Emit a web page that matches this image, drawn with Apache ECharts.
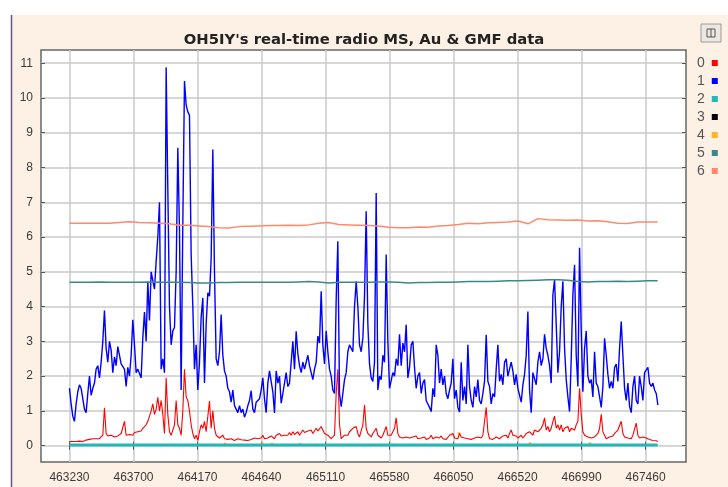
<!DOCTYPE html>
<html>
<head>
<meta charset="utf-8">
<script src="https://cdn.jsdelivr.net/npm/echarts@6/dist/echarts.min.js"></script>
<style>
html,body{margin:0;padding:0;background:#ffffff;}
#chart{width:728px;height:487px;}
</style>
</head>
<body>
<div id="chart"></div>
<script>
const TITLE = "OH5IY's real-time radio MS, Au & GMF data";
const X_TICKS = [463230, 463700, 464170, 464640, 465110, 465580, 466050, 466520, 466990, 467460];
const Y_TICKS = [0, 1, 2, 3, 4, 5, 6, 7, 8, 9, 10, 11];
const SERIES_NAMES = ['0', '1', '2', '3', '4', '5', '6'];
const SERIES_COLORS = ['#ff0000', '#0000ff', '#22b8b8', '#000000', '#ffa500', '#3f8787', '#ff8a6a'];

// fast sampled series (0 and 1)
const T_START = 463230;
const T_STEP = 12.24;
const S1_BLUE = [
1.65,1.2,0.85,0.7,1.2,1.55,1.75,1.65,1.35,1.05,
0.95,1.5,2.0,1.45,1.65,1.8,2.2,2.3,1.95,2.4,
3.0,3.89,2.8,2.4,3.0,2.75,2.1,2.55,2.3,2.85,
2.9,2.35,2.3,2.2,1.7,2.25,2.0,2.6,3.62,2.9,
2.1,2.2,2.2,1.95,3.1,3.84,3.0,4.72,3.6,5.0,
5.05,4.5,5.3,6.0,7.0,2.2,2.5,2.1,10.88,7.4,
4.0,2.9,3.3,3.4,5.0,8.57,6.2,1.6,6.4,10.49,
9.8,9.6,9.5,5.5,4.0,2.2,2.9,1.6,2.4,3.7,
4.25,1.8,3.5,4.4,4.3,5.4,8.52,5.0,2.5,2.3,
2.7,3.77,2.6,2.15,2.0,1.65,1.55,1.25,1.6,1.15,
1.05,0.95,1.15,0.95,1.05,0.82,0.95,1.15,1.3,1.58,
1.05,0.95,1.25,1.26,1.35,1.6,1.95,1.35,0.95,1.8,
2.15,2.2,1.55,0.94,2.15,1.8,2.0,1.22,1.5,1.8,
2.1,1.7,1.8,2.4,3.0,2.2,3.29,2.65,2.3,2.1,
2.4,2.2,2.4,2.6,2.3,2.1,1.9,2.2,2.4,3.15,
2.95,4.44,2.9,2.35,3.3,2.7,2.2,2.0,1.6,1.5,
4.2,5.88,1.5,1.12,1.5,1.9,2.1,2.7,2.9,2.9,
2.7,4.0,4.73,4.0,2.9,2.7,3.1,4.3,6.74,3.5,
2.35,1.95,1.85,2.4,7.27,1.6,2.0,1.9,2.6,2.4,
5.5,3.0,1.65,1.6,2.1,2.0,2.5,2.3,3.2,2.3,
2.95,2.7,3.48,1.95,2.25,2.9,3.0,2.25,1.65,2.0,
2.1,1.5,1.8,1.9,1.3,1.2,1.1,0.98,1.65,1.4,
2.9,2.6,1.8,2.2,1.75,2.0,1.5,1.35,1.6,1.8,
2.5,1.35,1.6,1.1,0.97,2.4,1.3,1.7,1.2,2.9,
1.7,1.3,1.1,1.7,1.4,1.9,1.3,1.2,1.5,1.85,
3.19,1.85,1.7,1.2,1.5,1.4,2.2,2.9,1.85,2.05,
1.75,2.4,2.5,2.0,2.2,2.4,2.15,1.75,2.05,1.65,
1.65,1.25,1.75,2.05,2.6,3.86,1.6,0.95,2.1,2.1,
1.75,2.4,2.7,2.3,2.5,3.2,2.8,2.6,2.3,1.8,
4.34,4.77,3.5,2.1,2.7,4.0,4.73,2.8,1.9,1.4,
0.98,2.5,4.34,5.2,2.6,1.7,5.69,3.3,1.55,2.8,
3.3,2.0,1.8,1.9,1.4,2.7,1.8,1.7,1.4,1.1,
1.7,3.09,2.6,2.05,1.65,1.85,1.65,2.25,2.35,1.85,
2.8,3.57,2.6,1.65,1.3,1.8,1.13,0.95,1.7,2.0,
1.3,1.2,2.0,1.7,1.3,2.1,2.1,2.25,1.8,1.7,
1.8,1.6,1.5,1.17
];
const S0_RED = [
0.12,0.1,0.12,0.15,0.12,0.1,0.13,0.15,0.12,0.14,
0.16,0.14,0.18,0.15,0.2,0.17,0.2,0.22,0.2,0.25,
0.3,1.09,0.35,0.28,0.25,0.3,0.27,0.25,0.3,0.28,
0.3,0.35,0.3,0.7,0.3,0.25,0.32,0.35,0.3,0.38,
0.35,0.4,0.45,0.42,0.5,0.55,0.6,0.7,0.85,1.0,
1.2,0.9,1.05,1.39,1.0,1.3,0.9,0.35,1.95,0.9,
0.4,0.3,0.35,0.6,1.3,0.6,0.5,0.3,1.0,2.2,
1.4,1.3,1.0,0.6,0.35,0.2,0.3,0.15,0.4,0.6,
0.5,0.7,0.4,0.45,1.28,0.5,1.0,0.5,0.3,0.35,
0.22,0.25,0.3,0.2,0.15,0.18,0.15,0.2,0.17,0.15,
0.18,0.2,0.15,0.17,0.2,0.16,0.18,0.15,0.2,0.18,
0.2,0.22,0.18,0.2,0.25,0.22,0.3,0.2,0.25,0.22,
0.2,0.28,0.25,0.2,0.3,0.25,0.35,0.28,0.25,0.3,
0.35,0.3,0.38,0.3,0.4,0.32,0.35,0.4,0.3,0.35,
0.45,0.38,0.35,0.42,0.38,0.45,0.35,0.4,0.5,0.42,
0.38,0.55,0.45,0.35,0.4,0.3,0.25,0.2,0.22,0.3,
1.5,2.2,0.6,0.2,0.25,0.3,0.35,0.3,0.4,0.38,
0.5,0.45,0.55,0.35,0.25,0.3,0.6,1.17,0.5,0.35,
0.3,0.25,0.35,0.3,0.5,0.3,0.25,0.22,0.3,0.28,
0.55,0.3,0.25,0.3,0.28,0.5,0.8,0.35,0.25,0.2,
0.22,0.18,0.25,0.2,0.22,0.18,0.25,0.2,0.28,0.2,
0.18,0.22,0.2,0.25,0.18,0.2,0.22,0.3,0.2,0.18,
0.25,0.2,0.22,0.28,0.2,0.25,0.18,0.22,0.3,0.25,
0.35,0.22,0.25,0.2,0.35,0.25,0.2,0.22,0.18,0.2,
0.22,0.18,0.2,0.22,0.2,0.25,0.2,0.22,0.3,0.35,
1.1,0.4,0.2,0.22,0.18,0.2,0.25,0.22,0.2,0.25,
0.28,0.25,0.3,0.22,0.35,0.45,0.3,0.25,0.28,0.22,
0.25,0.3,0.22,0.28,0.35,0.3,0.4,0.35,0.3,0.45,
0.5,0.4,0.35,0.5,0.6,0.8,0.45,0.55,0.4,0.5,
0.7,0.85,0.5,0.6,0.45,0.6,0.4,0.5,0.45,0.55,
0.4,0.5,0.55,0.45,0.6,0.7,1.65,0.9,0.4,0.3,
0.3,0.25,0.28,0.22,0.2,0.25,0.3,0.35,0.5,0.9,
0.4,0.3,0.2,0.22,0.25,0.2,0.28,0.35,0.3,0.45,
0.4,0.7,0.35,0.25,0.2,0.22,0.25,0.2,0.3,0.35,
0.65,0.3,0.22,0.2,0.25,0.3,0.22,0.2,0.18,0.2,
0.15,0.18,0.14,0.12
];

// slow sampled series (2, 5, 6)
const SLOW_STEP = 73.2;
const S2_CYAN = [
0.02,0.02,0.02,0.02,0.02,0.02,0.02,0.02,0.02,0.02,
0.02,0.02,0.02,0.02,0.02,0.02,0.02,0.02,0.02,0.02,
0.02,0.02,0.02,0.02,0.02,0.02,0.02,0.02,0.02,0.02,
0.02,0.02,0.02,0.02,0.02,0.02,0.02,0.02,0.02,0.02,
0.02,0.02,0.02,0.02,0.02,0.02,0.02,0.02,0.02,0.02,
0.02,0.02,0.02,0.02,0.02,0.02,0.02,0.02,0.02,0.02
];
const S5_TEAL = [
4.7,4.7,4.7,4.71,4.7,4.7,4.7,4.7,4.71,4.7,
4.7,4.7,4.69,4.68,4.68,4.69,4.69,4.7,4.7,4.7,
4.7,4.7,4.7,4.71,4.72,4.71,4.68,4.7,4.7,4.7,
4.7,4.71,4.71,4.7,4.68,4.69,4.69,4.7,4.7,4.71,
4.72,4.72,4.72,4.73,4.74,4.74,4.75,4.76,4.77,4.77,
4.76,4.72,4.71,4.72,4.72,4.73,4.72,4.73,4.74,4.74
];
const S6_SALMON = [
6.4,6.4,6.4,6.4,6.4,6.42,6.44,6.42,6.41,6.4,
6.38,6.34,6.34,6.32,6.3,6.27,6.26,6.3,6.31,6.32,
6.33,6.33,6.34,6.33,6.35,6.4,6.42,6.36,6.35,6.34,
6.33,6.32,6.28,6.27,6.27,6.29,6.28,6.32,6.33,6.36,
6.4,6.38,6.41,6.42,6.43,6.46,6.38,6.53,6.5,6.49,
6.48,6.49,6.46,6.47,6.44,6.4,6.39,6.43,6.43,6.43
];

// sparse series 4 (orange blips)
const S4_T = [464372, 464644, 464717, 464923, 466091, 466612, 467052];
const S4_V = [0.05, 0.06, 0.05, 0.05, 0.35, 0.06, 0.06];
// series 3 has no visible data
const S3_BLACK = [];

const X_MIN = 463021, X_MAX = 467757;
const Y_MIN = -0.47, Y_MAX = 11.38;

const fast = arr => arr.map((v, i) => [T_START + i * T_STEP, v]);
const slow = arr => arr.map((v, i) => [T_START + i * SLOW_STEP, v]);

const chart = echarts.init(document.getElementById('chart'), null, {renderer: 'canvas'});

const labelFont = {fontFamily: 'Liberation Sans', fontSize: 12, color: '#3a3a3a'};
const gridLine = {show: true, lineStyle: {color: '#cacaca', width: 1.5}};
const tickStyle = {color: '#555', width: 1};

function lineSeries(idx, data, width, extra) {
  return Object.assign({
    name: SERIES_NAMES[idx], type: 'line', data: data, showSymbol: false,
    symbol: 'none', animation: false, silent: true,
    lineStyle: {color: SERIES_COLORS[idx], width: width},
    itemStyle: {color: SERIES_COLORS[idx]}
  }, extra || {});
}

chart.setOption({
  animation: false,
  backgroundColor: '#ffffff',
  title: {
    text: TITLE, left: 359, top: 28, textAlign: 'center',
    textStyle: {fontFamily: 'DejaVu Sans', fontWeight: 'bold', fontSize: 14.8, color: '#222'}
  },
  graphic: [
    {type: 'rect', z: -10, shape: {x: 12, y: 15, width: 716, height: 472}, style: {fill: '#fdf1e6'}},
    {type: 'line', z: -9, shape: {x1: 11.5, y1: 15, x2: 11.5, y2: 487}, style: {stroke: '#5c5c8c', lineWidth: 1.5}},
    {type: 'rect', z: 5, shape: {x: 701, y: 24, width: 20, height: 18}, style: {fill: '#ece8e0', stroke: '#9a9a9a', lineWidth: 1}},
    {type: 'rect', z: 6, shape: {x: 707, y: 29, width: 8, height: 8}, style: {fill: 'none', stroke: '#555', lineWidth: 1}},
    {type: 'line', z: 6, shape: {x1: 711, y1: 29, x2: 711, y2: 37}, style: {stroke: '#555', lineWidth: 1}}
  ],
  legend: {
    orient: 'vertical', left: 692, top: 51, itemWidth: 6, itemHeight: 6, itemGap: 4,
    align: 'right', icon: 'rect', selectedMode: false,
    textStyle: {fontFamily: 'Liberation Sans', fontSize: 14, color: '#555', lineHeight: 13, padding: [0, 2, 0, 0]},
    data: SERIES_NAMES
  },
  grid: {
    left: 41, right: 42, top: 50, bottom: 25, containLabel: false,
    show: true, backgroundColor: '#ffffff', borderColor: '#666', borderWidth: 1.5
  },
  xAxis: [
    {type: 'value', position: 'bottom', min: X_MIN, max: X_MAX,
     axisLine: {show: false},
     axisTick: {show: true, inside: true, length: 4, customValues: X_TICKS, lineStyle: tickStyle},
     axisLabel: Object.assign({customValues: X_TICKS, margin: 10, formatter: v => String(v)}, labelFont),
     splitLine: gridLine},
    {type: 'value', position: 'top', min: X_MIN, max: X_MAX,
     axisLine: {show: false},
     axisTick: {show: true, inside: true, length: 4, customValues: X_TICKS, lineStyle: tickStyle},
     axisLabel: {show: false}, splitLine: {show: false}}
  ],
  yAxis: [
    {type: 'value', position: 'left', min: Y_MIN, max: Y_MAX,
     axisLine: {show: false},
     axisTick: {show: true, inside: true, length: 4, customValues: Y_TICKS, lineStyle: tickStyle},
     axisLabel: Object.assign({customValues: Y_TICKS, margin: 8, formatter: v => String(v)}, labelFont),
     splitLine: gridLine},
    {type: 'value', position: 'right', min: Y_MIN, max: Y_MAX,
     axisLine: {show: false},
     axisTick: {show: true, inside: true, length: 4, customValues: Y_TICKS, lineStyle: tickStyle},
     axisLabel: {show: false}, splitLine: {show: false}}
  ],
  series: [
    lineSeries(0, fast(S0_RED), 1.1),
    lineSeries(1, fast(S1_BLUE), 1.4),
    lineSeries(2, slow(S2_CYAN), 3),
    lineSeries(3, S3_BLACK, 1),
    {name: SERIES_NAMES[4], type: 'scatter', symbolSize: 3, silent: true,
     data: S4_T.map((t, i) => [t, S4_V[i]]), itemStyle: {color: SERIES_COLORS[4]}},
    lineSeries(5, slow(S5_TEAL), 1.5),
    lineSeries(6, slow(S6_SALMON), 1.5)
  ]
});
</script>
</body>
</html>
